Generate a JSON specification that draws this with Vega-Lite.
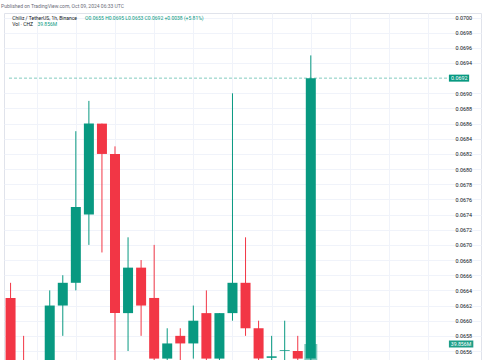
{
  "$schema": "https://vega.github.io/schema/vega-lite/v6.json",
  "width": 477,
  "height": 347,
  "autosize": {"type": "none"},
  "padding": {"left": 4, "top": 13, "right": 4, "bottom": 0},
  "background": "white",
  "config": {
    "view": {"stroke": "#e0e3eb", "strokeWidth": 1},
    "font": "Roboto",
    "axis": {"labelOverlap": false, "labelBound": false}
  },
  "title": {
    "text": "Published on TradingView.com, Oct 09, 2024 06:33 UTC",
    "anchor": "start",
    "frame": "group",
    "fontSize": 5,
    "fontWeight": "normal",
    "font": "Roboto",
    "color": "#6a6d78",
    "offset": 4,
    "dx": -3
  },
  "data": {
    "values": [
      {"i": 0, "open": 0.0663, "high": 0.0665, "low": 0.0648, "close": 0.0650, "vol": 12000000},
      {"i": 1, "open": 0.0654, "high": 0.0658, "low": 0.0648, "close": 0.0651, "vol": 9000000},
      {"i": 2, "open": 0.0651, "high": 0.0654, "low": 0.0649, "close": 0.0653, "vol": 7000000},
      {"i": 3, "open": 0.0653, "high": 0.0664, "low": 0.0651, "close": 0.0662, "vol": 14000000},
      {"i": 4, "open": 0.0662, "high": 0.0666, "low": 0.0658, "close": 0.0665, "vol": 10000000},
      {"i": 5, "open": 0.0665, "high": 0.0685, "low": 0.0664, "close": 0.0675, "vol": 19000000},
      {"i": 6, "open": 0.0674, "high": 0.0689, "low": 0.0670, "close": 0.0686, "vol": 21000000},
      {"i": 7, "open": 0.0686, "high": 0.0686, "low": 0.0669, "close": 0.0682, "vol": 13000000},
      {"i": 8, "open": 0.0682, "high": 0.0683, "low": 0.0654, "close": 0.0661, "vol": 20000000},
      {"i": 9, "open": 0.0661, "high": 0.0671, "low": 0.0656, "close": 0.0667, "vol": 11000000},
      {"i": 10, "open": 0.0667, "high": 0.0668, "low": 0.0658, "close": 0.0662, "vol": 8000000},
      {"i": 11, "open": 0.0663, "high": 0.0670, "low": 0.0653, "close": 0.0655, "vol": 12000000},
      {"i": 12, "open": 0.0655, "high": 0.0659, "low": 0.0654, "close": 0.0657, "vol": 6000000},
      {"i": 13, "open": 0.0658, "high": 0.0659, "low": 0.0654, "close": 0.0657, "vol": 5000000},
      {"i": 14, "open": 0.0657, "high": 0.0662, "low": 0.0655, "close": 0.0660, "vol": 6000000},
      {"i": 15, "open": 0.0661, "high": 0.0664, "low": 0.0653, "close": 0.0655, "vol": 9000000},
      {"i": 16, "open": 0.0655, "high": 0.0661, "low": 0.0654, "close": 0.0661, "vol": 7000000},
      {"i": 17, "open": 0.0661, "high": 0.0690, "low": 0.0660, "close": 0.0665, "vol": 18000000},
      {"i": 18, "open": 0.0665, "high": 0.0671, "low": 0.0658, "close": 0.0659, "vol": 10000000},
      {"i": 19, "open": 0.0659, "high": 0.0660, "low": 0.0654, "close": 0.0655, "vol": 6000000},
      {"i": 20, "open": 0.06551, "high": 0.0658, "low": 0.0654, "close": 0.06553, "vol": 4000000},
      {"i": 21, "open": 0.06560, "high": 0.0660, "low": 0.0654, "close": 0.06561, "vol": 4000000},
      {"i": 22, "open": 0.0656, "high": 0.0658, "low": 0.0654, "close": 0.0655, "vol": 5000000},
      {"i": 23, "open": 0.0655, "high": 0.0695, "low": 0.0653, "close": 0.0692, "vol": 39856000}
    ]
  },
  "layer": [
    {
      "layer": [
        {
          "mark": {"type": "bar", "width": 13, "opacity": 0.5, "clip": true},
          "encoding": {
            "x": {
              "field": "i",
              "type": "quantitative",
              "scale": {"domain": [-0.12, 35.655], "nice": false, "zero": false},
              "axis": {
                "values": [2, 5, 8, 11, 14, 17, 20, 23, 26, 29, 32],
                "tickCount": 11,
                "labels": false,
                "ticks": false,
                "domain": false,
                "title": null,
                "grid": true,
                "gridColor": "#f0f3fa",
                "zindex": 0
              }
            },
            "y": {
              "field": "vol",
              "type": "quantitative",
              "scale": {"domain": [22140000, 406300000], "zero": false, "nice": false},
              "axis": null
            },
            "y2": {"datum": 0},
            "color": {
              "condition": {"test": "datum.close >= datum.open", "value": "#089981"},
              "value": "#F23645"
            }
          }
        },
        {
          "transform": [{"filter": "datum.i == 23"}],
          "mark": {"type": "rect", "color": "#1e9e88", "height": 7, "clip": false},
          "encoding": {
            "x": {"datum": 33.58},
            "x2": {"datum": 35.45},
            "y": {"field": "vol", "type": "quantitative"}
          }
        },
        {
          "transform": [{"filter": "datum.i == 23"}],
          "mark": {"type": "text", "color": "white", "fontSize": 5.2, "align": "left", "baseline": "middle", "clip": false},
          "encoding": {
            "x": {"datum": 33.72},
            "y": {"field": "vol", "type": "quantitative"},
            "text": {"field": "vol", "format": ".5s"}
          }
        }
      ]
    },
    {
      "layer": [
        {
          "mark": {"type": "rule", "strokeWidth": 1, "clip": true},
          "encoding": {
            "x": {"field": "i", "type": "quantitative"},
            "y": {
              "field": "low",
              "type": "quantitative",
              "scale": {"domain": [0.0654815, 0.0700594], "zero": false, "nice": false},
              "axis": {
                "orient": "right",
                "offset": -28,
                "values": [0.0656, 0.0658, 0.066, 0.0662, 0.0664, 0.0666, 0.0668, 0.067, 0.0672, 0.0674, 0.0676, 0.0678, 0.068, 0.0682, 0.0684, 0.0686, 0.0688, 0.069, 0.0694, 0.0696, 0.0698, 0.07],
                "tickCount": 23,
                "format": ".4f",
                "title": null,
                "ticks": false,
                "domain": false,
                "labelPadding": 2,
                "labelFontSize": 5.4,
                "labelFont": "Roboto",
                "labelColor": "#131722",
                "labelFlush": false,
                "labelOverlap": false,
                "labelBound": false,
                "labelBaseline": "middle",
                "grid": true,
                "gridColor": "#f0f3fa",
                "zindex": 0
              }
            },
            "y2": {"field": "high"},
            "color": {
              "condition": {"test": "datum.close >= datum.open", "value": "#089981"},
              "value": "#F23645"
            }
          }
        },
        {
          "mark": {"type": "bar", "width": 10, "clip": true},
          "encoding": {
            "x": {"field": "i", "type": "quantitative"},
            "y": {"field": "open", "type": "quantitative"},
            "y2": {"field": "close"},
            "color": {
              "condition": {"test": "datum.close >= datum.open", "value": "#089981"},
              "value": "#F23645"
            }
          }
        },
        {
          "transform": [{"filter": "datum.i == 23"}],
          "mark": {"type": "rule", "color": "#089981", "opacity": 0.5, "strokeDash": [3, 2], "strokeWidth": 1},
          "encoding": {
            "x": {"datum": -0.12},
            "x2": {"datum": 33.58},
            "y": {"field": "close", "type": "quantitative"}
          }
        },
        {
          "transform": [{"filter": "datum.i == 23"}],
          "mark": {"type": "rect", "color": "#089981", "height": 7, "clip": false},
          "encoding": {
            "x": {"datum": 33.58},
            "x2": {"datum": 35.13},
            "y": {"field": "close", "type": "quantitative"}
          }
        },
        {
          "transform": [{"filter": "datum.i == 23"}],
          "mark": {"type": "text", "color": "white", "fontSize": 5.4, "align": "left", "baseline": "middle", "clip": false},
          "encoding": {
            "x": {"datum": 33.74},
            "y": {"field": "close", "type": "quantitative"},
            "text": {"field": "close", "format": ".4f"}
          }
        },
        {
          "transform": [{"filter": "datum.i == 23"}],
          "mark": {"type": "text", "color": "#131722", "fontSize": 5, "align": "left", "baseline": "middle"},
          "encoding": {
            "x": {"datum": 0.128},
            "y": {"datum": 0.0699934},
            "text": {"value": "Chiliz / TetherUS, 1h, Binance"}
          }
        },
        {
          "transform": [{"filter": "datum.i == 23"}],
          "mark": {"type": "text", "color": "#089981", "fontSize": 5, "align": "left", "baseline": "middle"},
          "encoding": {
            "x": {"datum": 5.708},
            "y": {"datum": 0.0699934},
            "text": {"value": "O0.0655  H0.0695  L0.0653  C0.0692  +0.0038 (+5.81%)"}
          }
        },
        {
          "transform": [{"filter": "datum.i == 23"}],
          "mark": {"type": "text", "color": "#131722", "fontSize": 5, "align": "left", "baseline": "middle"},
          "encoding": {
            "x": {"datum": 0.128},
            "y": {"datum": 0.0699103},
            "text": {"value": "Vol · CHZ"}
          }
        },
        {
          "transform": [{"filter": "datum.i == 23"}],
          "mark": {"type": "text", "color": "#089981", "fontSize": 5, "align": "left", "baseline": "middle"},
          "encoding": {
            "x": {"datum": 2.055},
            "y": {"datum": 0.0699103},
            "text": {"field": "vol", "format": ".5s"}
          }
        }
      ]
    }
  ],
  "resolve": {"scale": {"y": "independent"}}
}
